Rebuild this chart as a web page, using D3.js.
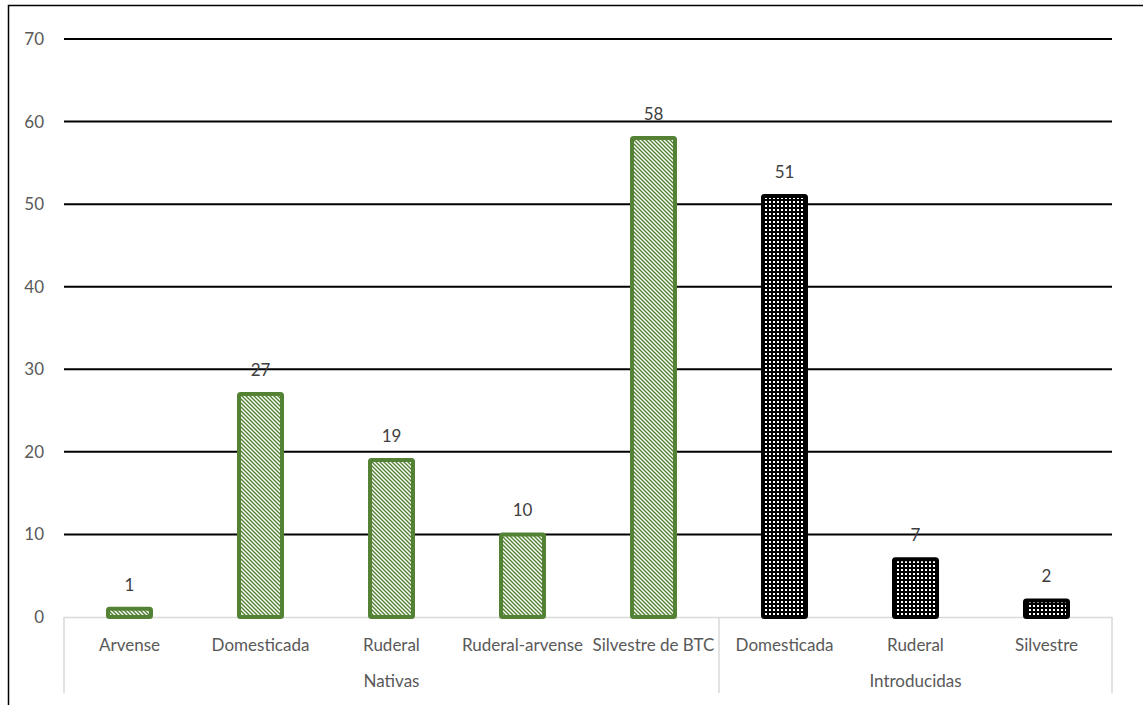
<!DOCTYPE html>
<html>
<head>
<meta charset="utf-8">
<script src="https://cdn.jsdelivr.net/npm/d3@7"></script>
<style>
  html, body { margin: 0; padding: 0; background: #fff; }
  svg { display: block; }
  text { font-family: Lato, "Open Sans", sans-serif; }
</style>
</head>
<body>
<svg id="chart" width="1143" height="705"></svg>
<script>
// Plant use categories grouped by origin
const categories = ["Arvense", "Domesticada", "Ruderal", "Ruderal-arvense", "Silvestre de BTC",
                    "Domesticada", "Ruderal", "Silvestre"];
const groups = ["Nativas", "Nativas", "Nativas", "Nativas", "Nativas",
                "Introducidas", "Introducidas", "Introducidas"];
const values = [1, 27, 19, 10, 58, 51, 7, 2];
const yTicks = [0, 10, 20, 30, 40, 50, 60, 70];

const W = 1143, H = 705;
const plot = { left: 64, right: 1112, top: 39, bottom: 617 };
const fontSize = "17px";

const svg = d3.select("#chart");
const defs = svg.append("defs");

// Green bars: white diagonal stripes on green
const hatch = defs.append("pattern")
  .attr("id", "hatchGreen").attr("patternUnits", "userSpaceOnUse")
  .attr("width", 4).attr("height", 4);
hatch.append("rect").attr("width", 4).attr("height", 4).attr("fill", "#548235");
hatch.append("path").attr("d", "M-1,-1 L5,5 M-3,1 L1,5 M3,-1 L7,3")
  .attr("stroke", "#fff").attr("stroke-width", 1.4);

// Black bars: white dot grid on black
const dots = defs.append("pattern")
  .attr("id", "dotsBlack").attr("patternUnits", "userSpaceOnUse")
  .attr("width", 4).attr("height", 4);
dots.append("rect").attr("width", 4).attr("height", 4).attr("fill", "#000");
dots.append("rect").attr("x", 1).attr("y", 1).attr("width", 2).attr("height", 2).attr("fill", "#fff");

// Outer frame
svg.append("rect").attr("x", 8.5).attr("y", 5.5)
  .attr("width", W + 20).attr("height", H + 20)
  .attr("fill", "none").attr("stroke", "#000").attr("stroke-width", 1.5);

const x = d3.scaleBand().domain(d3.range(categories.length))
  .range([plot.left, plot.right]).paddingInner(0).paddingOuter(0);
const y = d3.scaleLinear().domain([0, 70]).range([plot.bottom, plot.top]);

// Gridlines
svg.append("g").selectAll("line").data(yTicks.filter(d => d > 0)).join("line")
  .attr("x1", plot.left).attr("x2", plot.right)
  .attr("y1", d => y(d)).attr("y2", d => y(d))
  .attr("stroke", "#000").attr("stroke-width", 2);

// Y axis labels
const yAxis = d3.axisLeft(y).tickValues(yTicks).tickSize(0).tickPadding(20);
const gy = svg.append("g").attr("transform", `translate(${plot.left},0)`).call(yAxis);
gy.select(".domain").remove();
gy.selectAll("text").attr("fill", "#595959").style("font-size", fontSize)
  .style("font-family", "Lato, 'Open Sans', sans-serif");

// Category axis frame (light grey)
const axisColor = "#d9d9d9";
const axisBottom = 693;
svg.append("line").attr("x1", plot.left).attr("x2", plot.right)
  .attr("y1", plot.bottom + 0.5).attr("y2", plot.bottom + 0.5)
  .attr("stroke", axisColor).attr("stroke-width", 1.5);
const groupNames = Array.from(new Set(groups));
const groupSpans = groupNames.map(g => {
  const idx = d3.range(groups.length).filter(i => groups[i] === g);
  return { name: g, x0: x(idx[0]), x1: x(idx[idx.length - 1]) + x.bandwidth() };
});
const dividers = [plot.left].concat(groupSpans.map(s => s.x1));
svg.append("g").selectAll("line").data(dividers).join("line")
  .attr("x1", d => d).attr("x2", d => d)
  .attr("y1", plot.bottom).attr("y2", axisBottom)
  .attr("stroke", axisColor).attr("stroke-width", 1.5);

// Bars
const barW = 43;
svg.append("g").selectAll("rect").data(values).join("rect")
  .attr("x", (d, i) => x(i) + x.bandwidth() / 2 - barW / 2)
  .attr("y", d => y(d))
  .attr("width", barW)
  .attr("height", d => y(0) - y(d))
  .attr("rx", 1.5)
  .attr("fill", (d, i) => groups[i] === "Nativas" ? "url(#hatchGreen)" : "url(#dotsBlack)")
  .attr("stroke", (d, i) => groups[i] === "Nativas" ? "#548235" : "#000")
  .attr("stroke-width", 4);

// Value labels
svg.append("g").selectAll("text").data(values).join("text")
  .attr("x", (d, i) => x(i) + x.bandwidth() / 2)
  .attr("y", d => y(d) - 18)
  .attr("text-anchor", "middle")
  .attr("fill", "#404040").style("font-size", fontSize)
  .text(d => d);

// Category labels
svg.append("g").selectAll("text").data(categories).join("text")
  .attr("x", (d, i) => x(i) + x.bandwidth() / 2)
  .attr("y", 651)
  .attr("text-anchor", "middle")
  .attr("fill", "#595959").style("font-size", fontSize)
  .text(d => d);

// Group labels
svg.append("g").selectAll("text").data(groupSpans).join("text")
  .attr("x", d => (d.x0 + d.x1) / 2)
  .attr("y", 687)
  .attr("text-anchor", "middle")
  .attr("fill", "#595959").style("font-size", fontSize)
  .text(d => d.name);
</script>
</body>
</html>
